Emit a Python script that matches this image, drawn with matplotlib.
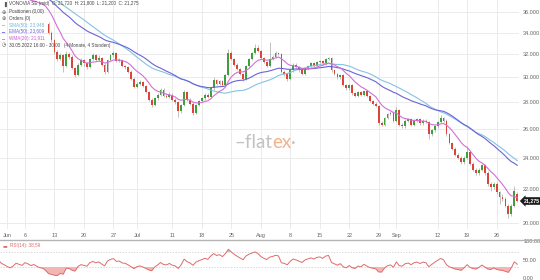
import numpy as np
import pandas as pd
import matplotlib
matplotlib.use("Agg")
import matplotlib.pyplot as plt
from matplotlib.lines import Line2D
from matplotlib.ticker import NullLocator

plt.rcParams['font.family'] = ['Liberation Sans', 'DejaVu Sans']

# ---------------- data ----------------
# bars: 2 per trading day; bar 0 = 1 Jun 2022 first bar
# warm-up closes (hidden behind legend / above plot), bars -28 .. 13
early_closes = [38.6, 38.9, 39.2, 39.4, 39.1, 38.8, 39.3, 39.6, 39.0, 38.5,
                38.2, 38.4, 38.7, 38.9, 39.2, 38.8, 38.1, 37.8, 37.9, 38.2,
                38.4, 38.6, 38.9, 39.1, 38.7, 38.4, 37.9, 37.6,
                37.2, 36.9, 37.1, 37.4, 37.2, 37.0, 37.3, 37.1, 36.8, 36.9,
                36.6, 36.3, 36.2, 35.6]
first_visible_bar = 14

opens = [34.8, 34.0, 33.3, 32.2, 31.6, 31.9, 31.0, 32.0, 31.8, 30.8,
         30.2, 31.1, 31.5, 31.2, 30.9, 31.6, 31.9, 31.5, 31.7, 31.1,
         30.5, 31.5, 31.9, 32.1, 31.4, 31.5, 31.0, 30.9, 30.5, 29.9,
         29.2, 29.5, 29.6, 29.3, 28.8, 28.2, 27.8, 28.3, 28.6, 29.0,
         28.5, 28.4, 28.6, 28.2, 28.0, 27.3, 27.8, 28.8, 28.2, 27.9,
         27.2, 27.8, 28.1, 28.3, 28.6, 28.4, 29.1, 29.8, 29.5, 29.7,
         29.4, 30.2, 32.1, 31.6, 31.1, 30.7, 30.3, 29.9, 31.0, 31.6,
         32.1, 32.6, 32.3, 31.7, 31.3, 31.0, 31.6, 31.8, 32.1, 32.0,
         30.5, 30.3, 29.9, 30.6, 31.1, 30.9, 30.6, 30.3, 30.8, 31.0,
         31.2, 31.0, 31.3, 31.4, 31.2, 31.6, 31.7, 30.6, 30.3, 30.0,
         30.2, 29.4, 29.1, 29.4, 28.7, 28.5, 28.8, 28.6, 28.9, 28.5,
         28.1, 27.9, 27.7, 26.4, 26.3, 26.8, 27.1, 27.2, 26.6, 27.4,
         26.3, 26.2, 26.6, 26.7, 26.3, 26.6, 26.7, 26.4, 26.6, 26.5,
         25.6, 25.9, 26.2, 26.5, 26.8, 26.6, 25.6, 25.0, 24.6, 24.2,
         24.0, 23.7, 24.0, 24.4, 23.6, 23.2, 23.0, 23.2, 23.5, 23.0,
         22.3, 22.1, 22.3, 21.8, 21.5, 21.4, 21.0, 20.5, 21.0, 21.72]

closes = [34.0, 33.3, 32.2, 31.6, 31.9, 31.0, 32.0, 31.8, 30.8, 30.2,
          31.1, 31.5, 31.2, 30.9, 31.6, 31.9, 31.5, 31.7, 31.1, 30.5,
          31.5, 31.9, 32.1, 31.4, 31.5, 31.0, 30.9, 30.5, 29.9, 29.2,
          29.5, 29.6, 29.3, 28.8, 28.2, 27.8, 28.3, 28.6, 29.0, 28.5,
          28.4, 28.6, 28.2, 28.0, 27.3, 27.8, 28.8, 28.2, 27.9, 27.2,
          27.8, 28.1, 28.3, 28.6, 28.4, 29.1, 29.8, 29.5, 29.7, 29.4,
          30.2, 32.1, 31.6, 31.1, 30.7, 30.3, 29.9, 31.0, 31.6, 32.1,
          32.6, 32.3, 31.7, 31.3, 31.0, 31.6, 31.8, 32.1, 32.0, 30.5,
          30.3, 29.9, 30.6, 31.1, 30.9, 30.6, 30.3, 30.8, 31.0, 31.2,
          31.0, 31.3, 31.4, 31.2, 31.6, 31.7, 30.6, 30.3, 30.0, 30.2,
          29.4, 29.1, 29.4, 28.7, 28.5, 28.8, 28.6, 28.9, 28.5, 28.1,
          27.9, 27.7, 26.4, 26.3, 26.8, 27.1, 27.2, 26.6, 27.4, 26.3,
          26.2, 26.6, 26.7, 26.3, 26.6, 26.7, 26.4, 26.6, 26.5, 25.6,
          25.9, 26.2, 26.5, 26.8, 26.6, 25.6, 25.0, 24.6, 24.2, 24.0,
          23.7, 24.0, 24.4, 23.6, 23.2, 23.0, 23.2, 23.5, 23.0, 22.3,
          22.1, 22.3, 21.8, 21.5, 21.4, 21.0, 20.5, 21.0, 21.9, 21.275]

highs = [35.0, 34.1, 33.4, 32.4, 32.1, 32.0, 32.3, 32.2, 31.9, 30.9,
         31.2, 31.7, 31.6, 31.3, 31.7, 32.1, 32.0, 31.9, 31.8, 31.2,
         31.6, 32.0, 32.3, 32.2, 31.7, 31.6, 31.1, 31.0, 30.6, 30.0,
         29.6, 29.8, 29.7, 29.4, 28.9, 28.3, 28.4, 28.7, 29.1, 29.1,
         28.7, 28.8, 28.7, 28.3, 28.1, 27.9, 29.0, 28.9, 28.3, 28.0,
         27.9, 28.2, 28.4, 28.7, 28.7, 29.2, 30.0, 29.9, 29.8, 29.8,
         30.3, 32.5, 32.3, 31.7, 31.2, 30.8, 30.4, 31.1, 31.7, 32.2,
         32.9, 32.8, 32.4, 31.8, 31.4, 33.1, 31.9, 32.3, 32.2, 32.1,
         30.6, 30.4, 30.7, 31.2, 31.2, 31.0, 30.7, 30.9, 31.1, 31.3,
         31.3, 31.4, 31.5, 31.5, 31.7, 31.8, 31.8, 30.7, 30.4, 30.3,
         30.3, 29.5, 29.5, 29.5, 28.8, 28.9, 28.9, 29.0, 29.0, 28.6,
         28.2, 28.0, 27.8, 26.6, 26.9, 27.2, 27.3, 27.3, 27.6, 27.5,
         26.4, 26.7, 26.8, 26.8, 26.7, 26.8, 26.8, 26.7, 26.7, 26.6,
         26.0, 26.3, 26.6, 27.0, 26.9, 26.7, 25.7, 25.1, 24.7, 24.3,
         24.1, 24.1, 24.8, 24.5, 23.7, 23.3, 23.3, 23.6, 23.6, 23.1,
         22.4, 22.4, 22.4, 21.9, 21.7, 21.5, 21.1, 21.1, 22.2, 21.8]

lows = [33.9, 33.1, 32.0, 31.4, 31.5, 30.5, 30.9, 31.6, 30.7, 30.0,
        30.1, 31.0, 31.0, 30.7, 30.8, 31.5, 31.4, 31.4, 31.0, 30.3,
        30.4, 31.4, 31.8, 31.3, 31.3, 30.9, 30.7, 30.4, 29.8, 29.1,
        29.1, 29.4, 29.2, 28.7, 28.1, 27.6, 27.7, 28.2, 28.5, 28.4,
        28.3, 28.3, 28.1, 27.9, 26.9, 27.2, 27.7, 28.1, 27.8, 27.0,
        27.1, 27.7, 28.0, 28.2, 28.3, 28.3, 29.0, 29.4, 29.4, 29.3,
        29.3, 30.1, 31.5, 31.0, 30.6, 30.2, 29.7, 29.8, 30.9, 31.5,
        32.0, 32.2, 31.6, 31.2, 30.9, 30.9, 31.5, 31.7, 31.9, 30.4,
        30.1, 29.7, 29.8, 30.5, 30.8, 30.5, 30.2, 30.2, 30.7, 30.9,
        30.9, 30.9, 31.2, 31.1, 31.1, 31.5, 30.5, 30.2, 29.9, 29.9,
        29.3, 29.0, 29.0, 28.6, 28.4, 28.4, 28.5, 28.5, 28.4, 28.0,
        27.8, 27.6, 26.3, 26.2, 26.2, 26.7, 27.0, 26.5, 26.5, 26.2,
        26.1, 26.1, 26.5, 26.2, 26.2, 26.5, 26.3, 26.3, 26.4, 25.3,
        25.5, 25.8, 26.1, 26.4, 26.5, 25.5, 24.9, 24.5, 24.1, 23.9,
        23.6, 23.6, 23.9, 23.5, 23.1, 22.9, 22.9, 23.1, 22.9, 22.2,
        21.9, 22.0, 21.7, 21.1, 21.3, 20.9, 20.3, 20.4, 20.9, 21.2]

price_ticks = [20, 22, 24, 26, 28, 30, 32, 34, 36]
date_tick_bars = [0, 6, 16, 26, 36, 44, 56, 66, 76, 86, 96, 106, 116, 126, 132, 146, 156, 166]
date_tick_labels = ['Jun', '6', '13', '20', '27', 'Jul', '11', '18', '25', 'Aug',
                    '8', '15', '22', '29', 'Sep', '12', '19', '26']

header = 'VONOVIA SE (mid)  O: 21,720  H: 21,800  L: 21,200  C: 21,275'
legend_sma = 'SMA(50): 23,948'
legend_ema = 'EMA(50): 23,609'
legend_wma = 'WMA(20): 21,911'
legend_rsi = 'RSI(14): 38,59'
period_text = '30.05.2022 16:00 - 30:00   (4 Monate, 4 Stunden)'
last_price_text = '21,275'
last_price = 21.275

# indicator lengths in 2-bar-per-day units (chart uses 3 bars per day)
P_SMA, P_EMA, P_WMA, P_RSI = 34, 34, 13, 9

# ---------------- computation ----------------
all_closes = pd.Series(early_closes + closes, dtype=float)
n_early = len(early_closes) - first_visible_bar
x_all = np.arange(len(all_closes)) - n_early
sma = all_closes.rolling(P_SMA, min_periods=1).mean()
ema = all_closes.ewm(span=P_EMA, adjust=False).mean()
wts = np.arange(1, P_WMA + 1)
wma = all_closes.rolling(P_WMA).apply(lambda a: np.dot(a, wts) / wts.sum(), raw=True)
delta = all_closes.diff()
gain = delta.clip(lower=0).ewm(alpha=1 / P_RSI, adjust=False).mean()
loss = (-delta.clip(upper=0)).ewm(alpha=1 / P_RSI, adjust=False).mean()
rsi = 100 - 100 / (1 + gain / loss)

o = np.array(opens); c = np.array(closes); h = np.array(highs); l = np.array(lows)
xv = np.arange(first_visible_bar, first_visible_bar + len(c))

# ---------------- figure ----------------
W, H = 540, 280
fig = plt.figure(figsize=(W / 100, H / 100), dpi=100)

def fx(px):
    return px / W

def fy(py):
    return 1 - py / H

XL = (-2.47, 173.6)
main_bottom = 229
ax = fig.add_axes([0, fy(main_bottom), fx(519), main_bottom / H])
ax.set_yscale('log')
ax.set_ylim(19.68, 37.22)
ax.set_xlim(*XL)
for s in ax.spines.values():
    s.set_visible(False)
ax.yaxis.tick_right()
ax.set_yticks(price_ticks)
ax.set_yticklabels([f'{v:.3f}' for v in price_ticks])
ax.yaxis.set_minor_locator(NullLocator())
ax.set_xticks(date_tick_bars)
ax.set_xticklabels(date_tick_labels)
ax.tick_params(axis='both', length=0, labelsize=4, colors='#666666')
ax.tick_params(axis='y', pad=3)
ax.tick_params(axis='x', pad=3)
ax.grid(True, color='#e8e8e8', lw=0.6)
ax.set_axisbelow(True)

# candles
green, red = '#3f9f3f', '#dc4438'
up = c >= o
ax.vlines(xv, l, h, color='#a8a8a8', lw=0.5, zorder=2)
ax.bar(xv, np.maximum(np.abs(c - o), 0.04), bottom=np.minimum(o, c), width=0.62,
       color=np.where(up, green, red), lw=0, zorder=3)

# moving averages
ax.plot(x_all, sma, color='#84c3e2', lw=0.8, zorder=4)
ax.plot(x_all, ema, color='#6b63d8', lw=0.8, zorder=4)
ax.plot(x_all, wma, color='#d36fd6', lw=0.8, zorder=4)

# watermark
wm_font = ['Lato', 'DejaVu Sans']
fig.canvas.draw()
t1 = fig.text(fx(234), fy(142), '\u2013flat', color='#c2c2c2', fontsize=13.5,
              family=wm_font, va='center', ha='left')
fig.canvas.draw()
bb = t1.get_window_extent()
t2 = fig.text(bb.x1 / W, fy(142), 'ex', color='#f5b28a', fontsize=13.5,
              family=wm_font, va='center', ha='left')
fig.canvas.draw()
bb2 = t2.get_window_extent()
fig.text(bb2.x1 / W, fy(142), '\u00b7', color='#c2c2c2', fontsize=13.5,
         family=wm_font, va='center', ha='left')

# last price tag
ydisp = ax.transData.transform((0, last_price))[1]
fig.text(fx(524), ydisp / H, last_price_text, color='white', fontsize=3.8,
         va='center', ha='left', fontweight='bold',
         bbox=dict(boxstyle='larrow,pad=0.25', fc='#1c1c1c', ec='none'))

# header legend
rows = [
    (4, '\u2590', '#555555', header, '#444444'),
    (12, '\u2295', '#555555', 'Positionen (0,00)', '#444444'),
    (18.5, '\u2295', '#555555', 'Orders (0)', '#444444'),
    (25, '\u2501', '#84c3e2', legend_sma, '#6fb6dc'),
    (32, '\u2501', '#6b63d8', legend_ema, '#6b63d8'),
    (38.5, '\u2501', '#d36fd6', legend_wma, '#c95ccc'),
    (45, '\u25f7', '#555555', period_text, '#444444'),
]
for py, icon, icol, txt, tcol in rows:
    fig.text(fx(2), fy(py), icon, color=icol, fontsize=3.6, va='center', ha='left',
             family=['DejaVu Sans'])
    fig.text(fx(9), fy(py), txt, color=tcol, fontsize=3.3, va='center', ha='left')

# separator
fig.add_artist(Line2D([0, 1], [fy(239.5), fy(239.5)], transform=fig.transFigure,
                      color='#b4b4b4', lw=1.0))

# RSI panel
ax2 = fig.add_axes([0, 0, fx(519), 40 / H])
ax2.set_xlim(*XL)
ax2.set_ylim(-5, 103)
for s in ax2.spines.values():
    s.set_visible(False)
ax2.yaxis.tick_right()
ax2.set_yticks([0, 50, 100])
ax2.set_yticklabels(['0.00', '50.00', '100.00'])
ax2.set_xticks([])
ax2.tick_params(axis='y', length=0, labelsize=4, colors='#666666', pad=3)
for lv in (30, 70):
    ax2.axhline(lv, color='#c8c8c8', lw=0.5, ls=(0, (2, 2)))
rv = rsi.values
ax2.fill_between(x_all, rv, 30, where=rv < 30, interpolate=True, color='#f2a3a3', lw=0, alpha=0.8)
ax2.fill_between(x_all, rv, 70, where=rv > 70, interpolate=True, color='#a5d8a5', lw=0, alpha=0.8)
ax2.plot(x_all, rv, color='#e06a6a', lw=0.7)
fig.text(fx(3), fy(246), '\u25ac', color='#e06a6a', fontsize=3.6, va='center', ha='left',
         family=['DejaVu Sans'])
fig.text(fx(10), fy(246), legend_rsi, color='#e06a6a', fontsize=3.3, va='center', ha='left')

fig.savefig('out.png', dpi=100)
